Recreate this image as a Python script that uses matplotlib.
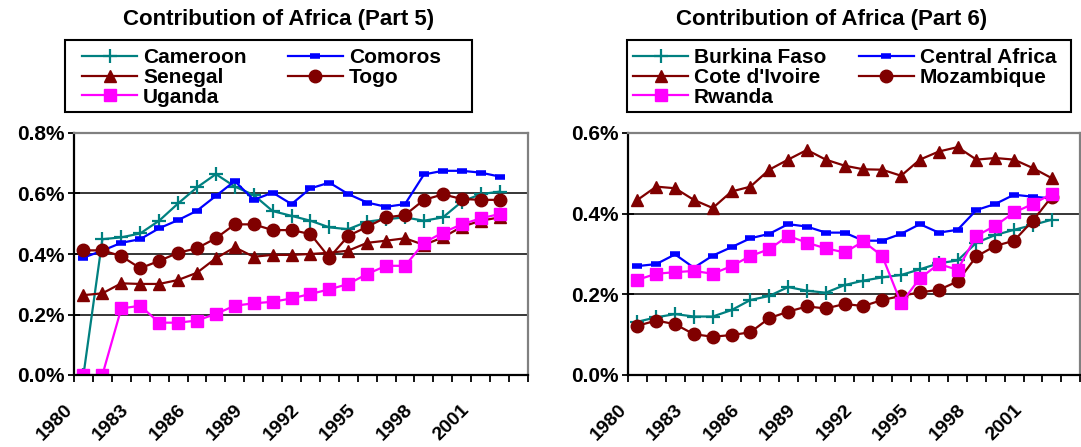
import numpy as np
import matplotlib
matplotlib.use("Agg")
from matplotlib import pyplot as plt
from matplotlib.patches import Rectangle
from matplotlib.transforms import ScaledTranslation

plt.rcParams['font.family'] = ['Liberation Sans', 'DejaVu Sans']
plt.rcParams['font.weight'] = 'bold'

years = [str(y) for y in range(1980, 2004)]

# Part 5 (% share)
cameroon = [0.00, 0.449, 0.455, 0.468, 0.510, 0.567, 0.620, 0.664, 0.623, 0.595, 0.542, 0.526,
            0.510, 0.488, 0.482, 0.507, 0.515, 0.521, 0.510, 0.521, 0.573, 0.598, 0.606]
comoros = [0.388, 0.411, 0.437, 0.449, 0.485, 0.512, 0.543, 0.592, 0.641, 0.579, 0.603, 0.565,
           0.617, 0.636, 0.598, 0.570, 0.556, 0.565, 0.663, 0.675, 0.675, 0.669, 0.656]
senegal = [0.264, 0.270, 0.303, 0.301, 0.301, 0.314, 0.338, 0.386, 0.422, 0.391, 0.397, 0.397,
           0.400, 0.404, 0.411, 0.437, 0.444, 0.452, 0.430, 0.455, 0.490, 0.510, 0.521]
togo = [0.412, 0.412, 0.393, 0.353, 0.377, 0.404, 0.419, 0.452, 0.498, 0.498, 0.479, 0.479,
        0.466, 0.388, 0.460, 0.490, 0.521, 0.529, 0.579, 0.597, 0.582, 0.579, 0.579]
uganda = [0.0, 0.0, 0.220, 0.229, 0.173, 0.173, 0.180, 0.202, 0.229, 0.237, 0.242, 0.253,
          0.268, 0.283, 0.301, 0.334, 0.361, 0.361, 0.437, 0.471, 0.498, 0.518, 0.532]

# Part 6 (% share)
burkina = [0.132, 0.143, 0.151, 0.145, 0.145, 0.161, 0.186, 0.196, 0.218, 0.209, 0.204, 0.223,
           0.234, 0.242, 0.248, 0.262, 0.277, 0.284, 0.328, 0.347, 0.360, 0.372, 0.385]
central = [0.270, 0.275, 0.299, 0.266, 0.296, 0.317, 0.339, 0.350, 0.374, 0.368, 0.353, 0.353,
           0.333, 0.333, 0.350, 0.374, 0.353, 0.360, 0.409, 0.424, 0.447, 0.442, 0.438]
cote = [0.434, 0.467, 0.463, 0.434, 0.414, 0.455, 0.467, 0.509, 0.534, 0.558, 0.534, 0.519,
        0.510, 0.509, 0.494, 0.534, 0.554, 0.565, 0.534, 0.538, 0.534, 0.513, 0.488]
mozambique = [0.122, 0.135, 0.126, 0.101, 0.095, 0.099, 0.106, 0.141, 0.157, 0.170, 0.165, 0.176,
              0.171, 0.186, 0.196, 0.205, 0.211, 0.232, 0.294, 0.320, 0.333, 0.383, 0.442]
rwanda = [0.236, 0.251, 0.255, 0.258, 0.251, 0.270, 0.295, 0.312, 0.345, 0.328, 0.314, 0.304,
          0.331, 0.295, 0.178, 0.240, 0.275, 0.261, 0.345, 0.370, 0.403, 0.424, 0.449]

TEAL, BLUE, MAROON, MAGENTA = '#008080', '#0000ff', '#800000', '#ff00ff'
styles = [
    dict(color=TEAL, marker='+', ms=10, mew=1.6),
    dict(color=BLUE, marker='_', ms=7, mew=4),
    dict(color=MAROON, marker='^', ms=9),
    dict(color=MAROON, marker='o', ms=9),
    dict(color=MAGENTA, marker='s', ms=8),
]

W, H = 1081, 447
fig = plt.figure(figsize=(W / 100, H / 100), dpi=100)


def panel(px_box, series, names, ymax, title, title_x, leg_box, leg_x, colspace):
    x0, y0, x1, y1 = px_box
    ax = fig.add_axes([x0 / W, 1 - y1 / H, (x1 - x0) / W, (y1 - y0) / H])
    x = np.arange(len(series[0]))
    lines = []
    for s, st in zip(series, styles):
        ln, = ax.plot(x, s, lw=1.6, **st)
        lines.append(ln)
    yt = np.arange(0, ymax + 0.01, 0.2)
    ax.set_yticks(yt)
    ax.set_yticklabels(['%.1f%%' % v for v in yt], fontsize=15, fontweight='bold')
    for v in yt[1:-1]:
        ax.axhline(v, color='black', lw=1.1, zorder=0)
    ax.set_xticks([])
    ax.set_xticks(np.arange(-0.5, len(years)), minor=True)
    ax.set_xlim(-0.5, len(years) - 0.5)
    ax.set_ylim(0, ymax)
    # rotated year labels, ending a bit left of and below each category
    lab_tr = ax.get_xaxis_transform() + ScaledTranslation(-0.136, -0.32, fig.dpi_scale_trans)
    for i in range(0, len(years), 3):
        ax.text(i, 0, years[i], transform=lab_tr, rotation=45, ha='right', va='center',
                rotation_mode='anchor', fontsize=14, fontweight='bold')
    ax.tick_params(axis='x', which='minor', length=5, width=1.3, direction='out')
    ax.tick_params(axis='y', length=8, width=1.3, direction='inout', pad=3)
    for side in ('left', 'bottom'):
        ax.spines[side].set_color('black')
        ax.spines[side].set_linewidth(1.6)
    for side in ('top', 'right'):
        ax.spines[side].set_color('#808080')
        ax.spines[side].set_linewidth(1.6)
    fig.text(title_x / W, 1 - 20 / H, title, ha='center', va='center',
             fontsize=16, fontweight='bold')

    # legend frame drawn separately to match the original box
    lx0, ly0, lx1, ly1 = leg_box
    fig.patches.append(Rectangle((lx0 / W, 1 - ly1 / H), (lx1 - lx0) / W, (ly1 - ly0) / H,
                                 transform=fig.transFigure, fill=False,
                                 edgecolor='black', lw=1.5))
    order = [0, 2, 4, 1, 3]
    fig.legend([lines[i] for i in order], [names[i] for i in order], ncol=2,
               loc='upper left', bbox_to_anchor=(leg_x / W, 1 - 48 / H),
               fontsize=15, frameon=False, labelspacing=0.04,
               handlelength=2.64, handletextpad=0.29, borderpad=0,
               columnspacing=colspace, borderaxespad=0)
    return ax


panel((74, 133, 528, 375),
      [cameroon, comoros, senegal, togo, uganda],
      ['Cameroon', 'Comoros', 'Senegal', 'Togo', 'Uganda'],
      0.8, 'Contribution of Africa (Part 5)', 279,
      (65, 40, 472, 112), 82, 1.97)
panel((628, 133, 1080, 375),
      [burkina, central, cote, mozambique, rwanda],
      ['Burkina Faso', 'Central Africa', "Cote d'Ivoire", 'Mozambique', 'Rwanda'],
      0.6, 'Contribution of Africa (Part 6)', 832,
      (627, 40, 1071, 112), 633, 1.54)

fig.savefig('out.png', dpi=100)
